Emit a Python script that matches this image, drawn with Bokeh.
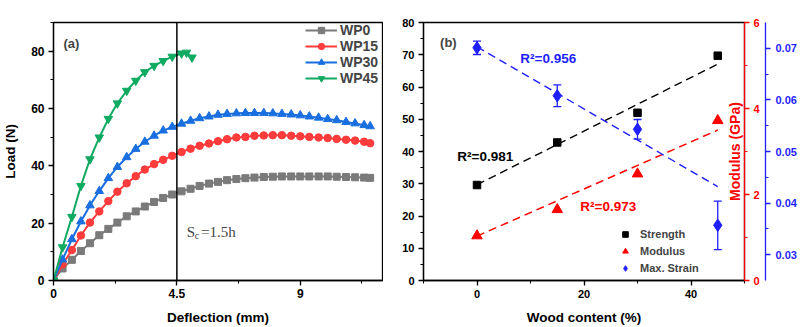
import numpy as np
from bokeh.plotting import figure
from bokeh.layouts import row
from bokeh.models import (Range1d, LinearAxis, SingleIntervalTicker, FixedTicker,
                          Legend, LegendItem, Span, Label, PrintfTickFormatter)
from bokeh.embed import file_html
from bokeh.resources import INLINE

# ---------------- Panel (a): load-deflection curves ----------------
deflection_mm = [0, 0.33, 0.67, 1.0, 1.33, 1.67, 2.0, 2.33, 2.67, 3.0, 3.33, 3.67,
                 4.0, 4.33, 4.67, 5.0, 5.33, 5.67, 6.0, 6.33, 6.67, 7.0, 7.33, 7.67,
                 8.0, 8.33, 8.67, 9.0, 9.33, 9.67, 10.0, 10.33, 10.67, 11.0, 11.33, 11.55]
wp0_load = [0, 4.2, 7.2, 10.3, 13.0, 15.8, 18.0, 20.2, 22.4, 24.1, 25.8, 27.4,
            28.8, 30.0, 31.1, 32.0, 33.0, 33.8, 34.4, 35.0, 35.4, 35.7, 35.9, 36.1,
            36.2, 36.3, 36.3, 36.3, 36.3, 36.3, 36.3, 36.2, 36.1, 36.0, 35.9, 35.8]
wp15_load = [0, 5.6, 10.6, 15.7, 20.2, 24.1, 27.7, 31.0, 33.9, 36.4, 38.7, 40.6,
             42.1, 43.5, 44.8, 46.0, 47.0, 47.8, 48.6, 49.3, 49.9, 50.1, 50.5, 50.6,
             50.7, 50.7, 50.5, 50.3, 50.1, 49.9, 49.7, 49.4, 49.1, 48.8, 48.4, 47.9]
wp30_load = [0, 7.3, 14.4, 20.6, 26.2, 31.2, 35.7, 39.6, 43.0, 45.9, 48.4, 50.5,
             52.3, 53.6, 54.7, 55.7, 56.6, 57.2, 57.8, 58.1, 58.3, 58.4, 58.4, 58.4,
             58.3, 58.1, 57.9, 57.6, 57.2, 56.8, 56.3, 55.9, 55.3, 54.8, 54.2, 53.8]
wp45_deflection = [0, 0.33, 0.67, 1.0, 1.33, 1.67, 2.0, 2.33, 2.67, 3.0, 3.33, 3.67,
                   4.0, 4.33, 4.67, 4.85, 5.05]
wp45_load = [0, 11.6, 22.2, 33.0, 42.3, 49.9, 56.4, 61.8, 66.2, 69.7, 72.7, 74.9,
             76.6, 78.1, 79.2, 79.5, 77.8]

x_ticks_a = [0, 4.5, 9]
x_minor_a = [2.25, 6.75, 11.25]

# ---------------- Panel (b): properties vs wood content ----------------
wood_content = [0, 15, 30, 45]
strength_mpa = [29.6, 42.8, 52.0, 69.7]
modulus_gpa = [1.04, 1.65, 2.48, 3.72]
max_strain = [0.0701, 0.0608, 0.0543, 0.0357]
max_strain_err = [0.0013, 0.0021, 0.0019, 0.0047]
fit_x = [0, 45]
strength_fit = [29.7, 67.1]
modulus_fit = [1.03, 3.50]
strain_fit = [0.0703, 0.0432]

FONT = "Liberation Sans"
C_GRAY, C_RED, C_BLUE, C_GREEN = "#7a7a7a", "#ff3b3b", "#1a6fe0", "#10aa62"
B_RED, B_BLUE = "#ff0000", "#1f1fff"


def style_axis(ax, color="black", size="12px"):
    ax.axis_line_color = color
    ax.axis_line_width = 1.3
    ax.major_tick_line_color = color
    ax.minor_tick_line_color = color
    ax.major_tick_line_width = 1.3
    ax.minor_tick_line_width = 1.1
    ax.major_tick_out = 5
    ax.major_tick_in = 0
    ax.minor_tick_out = 3
    ax.minor_tick_in = 0
    ax.major_label_text_font = FONT
    ax.major_label_text_font_style = "bold"
    ax.major_label_text_font_size = size
    ax.major_label_text_color = color
    ax.axis_label_text_font = FONT
    ax.axis_label_text_font_style = "bold"
    ax.axis_label_text_font_size = "13.5px"
    ax.axis_label_text_color = color


# ---------------- figure (a) ----------------
pa = figure(width=383, height=327, x_range=Range1d(0, 12), y_range=Range1d(0, 90),
            output_backend="svg", toolbar_location=None,
            min_border_left=51, min_border_right=1, min_border_top=13, min_border_bottom=44)
pa.grid.visible = False
pa.outline_line_color = "black"
pa.outline_line_width = 1.3
pa.outline_line_alpha = 1

pa.xaxis.ticker = FixedTicker(ticks=x_ticks_a, minor_ticks=x_minor_a)
pa.xaxis.major_label_overrides = {0: "0", 4.5: "4.5", 9: "9"}
pa.yaxis.ticker = SingleIntervalTicker(interval=20, num_minor_ticks=2)
pa.xaxis.axis_label = "Deflection (mm)"
pa.yaxis.axis_label = "Load (N)"
for ax in pa.xaxis + pa.yaxis:
    style_axis(ax, size="12px")
pa.xaxis.major_label_standoff = 3
pa.xaxis.axis_label_standoff = 9
pa.yaxis.major_label_standoff = 4
pa.yaxis.axis_label_standoff = 10

pa.add_layout(Span(location=4.5, dimension="height", line_color="black", line_width=1.5))

series = [
    ("WP0", deflection_mm, wp0_load, C_GRAY, "square", 7),
    ("WP15", deflection_mm, wp15_load, C_RED, "circle", 7.5),
    ("WP30", deflection_mm, wp30_load, C_BLUE, "triangle", 8.5),
    ("WP45", wp45_deflection, wp45_load, C_GREEN, "inverted_triangle", 8.5),
]
items_a = []
for name, xs, ys, col, mk, sz in series:
    ln = pa.line(xs, ys, line_color=col, line_width=2)
    sc = pa.scatter(xs, ys, marker=mk, size=sz, fill_color=col, line_color=col)
    items_a.append(LegendItem(label=name, renderers=[ln, sc]))

leg_a = Legend(items=items_a, location=(252, 194), border_line_color=None,
               background_fill_alpha=0, label_text_font=FONT, label_text_font_style="bold",
               label_text_font_size="14px", glyph_width=32, glyph_height=16,
               label_height=16, spacing=0, padding=0, margin=0, label_standoff=3)
pa.add_layout(leg_a)

pa.add_layout(Label(x=0.65, y=82.8, text="(a)", text_align="center", text_baseline="middle",
                    text_font=FONT, text_font_style="bold", text_font_size="13px"))
pa.add_layout(Label(x=4.86, y=16.8, text="S", text_align="left", text_baseline="alphabetic",
                    text_font="Liberation Serif", text_font_size="15px"))
pa.add_layout(Label(x=5.15, y=15.6, text="c", text_align="left", text_baseline="alphabetic",
                    text_font="Liberation Serif", text_font_size="10px"))
pa.add_layout(Label(x=5.38, y=16.8, text="=1.5h", text_align="left", text_baseline="alphabetic",
                    text_font="Liberation Serif", text_font_size="15px"))

# ---------------- figure (b) ----------------
pb = figure(width=421, height=327, x_range=Range1d(-10, 50), y_range=Range1d(0, 80),
            output_backend="svg", toolbar_location=None,
            min_border_left=40, min_border_right=60, min_border_top=22, min_border_bottom=43)
pb.extra_y_ranges = {"mod": Range1d(0, 6), "strain": Range1d(0.025, 0.075)}
pb.grid.visible = False
pb.outline_line_color = "black"
pb.outline_line_width = 1.3
pb.outline_line_alpha = 1

pb.xaxis.ticker = SingleIntervalTicker(interval=20, num_minor_ticks=2)
pb.yaxis.ticker = SingleIntervalTicker(interval=10, num_minor_ticks=2)
pb.xaxis.axis_label = "Wood content (%)"
for ax in pb.xaxis + pb.yaxis:
    style_axis(ax, size="11px")
pb.xaxis.major_label_standoff = 4
pb.xaxis.axis_label_standoff = 9
pb.yaxis.major_label_standoff = 4

ax_mod = LinearAxis(y_range_name="mod", ticker=SingleIntervalTicker(interval=2, num_minor_ticks=2),
                    formatter=PrintfTickFormatter(format="%d\u00a0"))
style_axis(ax_mod, color=B_RED, size="11px")
ax_mod.major_label_standoff = 4
pb.add_layout(ax_mod, "right")

ax_str = LinearAxis(y_range_name="strain", ticker=SingleIntervalTicker(interval=0.01, num_minor_ticks=2),
                    formatter=PrintfTickFormatter(format="%.2f"))
style_axis(ax_str, color=B_BLUE, size="11px")
ax_str.major_label_standoff = 5
pb.add_layout(ax_str, "right")

# linear fits (dashed)
pb.line(fit_x, strength_fit, line_color="black", line_width=1.4, line_dash="8 5")
pb.line(fit_x, modulus_fit, y_range_name="mod", line_color=B_RED, line_width=1.4, line_dash="8 5")
pb.line(fit_x, strain_fit, y_range_name="strain", line_color=B_BLUE, line_width=1.4, line_dash="8 5")

# error bars for max strain
err_lo = [m - e for m, e in zip(max_strain, max_strain_err)]
err_hi = [m + e for m, e in zip(max_strain, max_strain_err)]
pb.segment(x0=wood_content, y0=err_lo, x1=wood_content, y1=err_hi, y_range_name="strain",
           line_color=B_BLUE, line_width=1.3)
pb.scatter(wood_content, err_lo, y_range_name="strain", marker="dash", size=8,
           line_color=B_BLUE, line_width=1.3)
pb.scatter(wood_content, err_hi, y_range_name="strain", marker="dash", size=8,
           line_color=B_BLUE, line_width=1.3)

s_str = pb.scatter(wood_content, strength_mpa, marker="square", size=7.5,
                   fill_color="black", line_color="black")
s_mod = pb.scatter(wood_content, modulus_gpa, y_range_name="mod", marker="triangle", size=10.5,
                   fill_color=B_RED, line_color=B_RED)
s_stn = pb.scatter(wood_content, max_strain, y_range_name="strain", marker="diamond", size=12.5,
                   fill_color=B_BLUE, line_color=B_BLUE)

leg_b = Legend(items=[LegendItem(label="Strength", renderers=[s_str]),
                      LegendItem(label="Modulus", renderers=[s_mod]),
                      LegendItem(label="Max. Strain", renderers=[s_stn])],
               location=(192, 5), border_line_color=None, background_fill_alpha=0,
               label_text_font=FONT, label_text_font_style="bold", label_text_font_size="11px",
               glyph_width=20, glyph_height=14, label_height=14, spacing=3, padding=0,
               margin=0, label_standoff=5)
pb.add_layout(leg_b)

# axis title of the left (Strength) axis, placed beside its tick labels
pb.add_layout(Label(x=-15.65, y=40, text="Strength (MPa)", angle=np.pi / 2, text_align="center",
                    text_baseline="middle", text_font=FONT, text_font_style="bold",
                    text_font_size="13.5px", text_color="black"))
pb.add_layout(Label(x=-5.35, y=73.7, text="(b)", text_align="center", text_baseline="middle",
                    text_font=FONT, text_font_style="bold", text_font_size="13px"))
pb.add_layout(Label(x=8.1, y=68.8, text="R\u00b2=0.956", text_align="left", text_baseline="middle",
                    text_font=FONT, text_font_style="bold", text_font_size="13.5px", text_color=B_BLUE))
pb.add_layout(Label(x=-3.67, y=38.6, text="R\u00b2=0.981", text_align="left", text_baseline="middle",
                    text_font=FONT, text_font_style="bold", text_font_size="13.5px", text_color="black"))
pb.add_layout(Label(x=19.3, y=23.0, text="R\u00b2=0.973", text_align="left", text_baseline="middle",
                    text_font=FONT, text_font_style="bold", text_font_size="13.5px", text_color=B_RED))
pb.add_layout(Label(x=48.3, y=40, text="Modulus (GPa)", angle=np.pi / 2, text_align="center",
                    text_baseline="middle", text_font=FONT, text_font_style="bold",
                    text_font_size="14px", text_color=B_RED))
pb.add_layout(Label(x=60.3, y=40, text="Max. Strain", angle=np.pi / 2, text_align="center",
                    text_baseline="top", text_font=FONT, text_font_style="bold",
                    text_font_size="14px", text_color=B_BLUE))

layout = row(pa, pb, spacing=0)
open("out.html", "w").write(file_html(layout, INLINE))
